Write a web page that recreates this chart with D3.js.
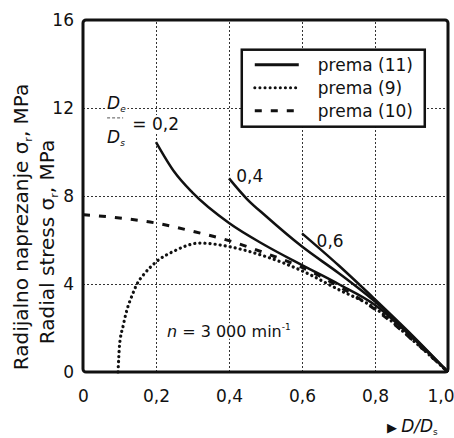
<!DOCTYPE html>
<html>
<head>
<meta charset="utf-8">
<script src="https://cdn.jsdelivr.net/npm/d3@7"></script>
<style>
  body { margin: 0; background: #fff; }
  svg { font-family: "DejaVu Sans", sans-serif; }
</style>
</head>
<body>
<svg width="454" height="438"></svg>
<script>
// D/Ds on x, radial stress (MPa) on y
const xTicks = [0, 0.2, 0.4, 0.6, 0.8, 1.0]
const xTickLabels = ["0", "0,2", "0,4", "0,6", "0,8", "1,0"]
const yTicks = [0, 4, 8, 12, 16]
const yTickLabels = ["0", "4", "8", "12", "16"]

// prema (11), one curve per De/Ds
const eq11_02 = [[0.2, 10.45], [0.25, 9.1], [0.3, 8.15], [0.4, 6.77], [0.5, 5.75],
  [0.6, 4.86], [0.7, 4.0], [0.8, 3.05], [0.9, 1.6], [1.0, 0]]
const eq11_04 = [[0.4, 8.8], [0.45, 7.85], [0.5, 7.1], [0.6, 5.7], [0.7, 4.5],
  [0.8, 3.2], [0.9, 1.65], [1.0, 0]]
const eq11_06 = [[0.6, 6.3], [0.7, 4.85], [0.8, 3.3], [0.9, 1.7], [1.0, 0]]
// prema (9)
const eq9 = [[0.096, 0], [0.1, 1.2], [0.11, 2.1], [0.12, 2.8], [0.135, 3.5], [0.148, 4.0],
  [0.17, 4.5], [0.2, 5.0], [0.25, 5.5], [0.32, 5.86], [0.4, 5.7], [0.5, 5.25],
  [0.6, 4.6], [0.7, 3.75], [0.8, 2.9], [0.9, 1.5], [1.0, 0]]
// prema (10)
const eq10 = [[0, 7.15], [0.1, 7.0], [0.2, 6.77], [0.3, 6.4], [0.4, 5.97], [0.5, 5.4],
  [0.6, 4.75], [0.7, 3.9], [0.8, 2.85], [0.9, 1.5], [1.0, 0]]

const legendLabels = ["prema (11)", "prema (9)", "prema (10)"]
const ratioLabels = ["0,4", "0,6"]

const margin = {top: 20, right: 6, bottom: 66, left: 83}
const W = 454, H = 438
const width = W - margin.left - margin.right
const height = H - margin.top - margin.bottom

const x = d3.scaleLinear().domain([0, 1]).range([0, width])
const y = d3.scaleLinear().domain([0, 16]).range([height, 0])

const svg = d3.select("svg")
const g = svg.append("g").attr("transform", `translate(${margin.left},${margin.top})`)

// grid
const xGrid = d3.axisBottom(x).tickValues(xTicks.slice(1, -1)).tickSize(-height).tickFormat("")
const yGrid = d3.axisLeft(y).tickValues(yTicks.slice(1, -1)).tickSize(-width).tickFormat("")
g.append("g").attr("transform", `translate(0,${height})`).call(xGrid)
g.append("g").call(yGrid)
g.selectAll(".domain").remove()
g.selectAll(".tick line")
  .attr("stroke", "#333").attr("stroke-width", 1).attr("stroke-dasharray", "2,2")

// tick labels
const xAxis = d3.axisBottom(x).tickValues(xTicks).tickSize(0).tickPadding(18)
  .tickFormat((d, i) => xTickLabels[i])
const xa = g.append("g").attr("transform", `translate(0,${height})`).call(xAxis)
const yAxis = d3.axisLeft(y).tickValues(yTicks).tickSize(0).tickPadding(9)
  .tickFormat((d, i) => yTickLabels[i])
const ya = g.append("g").call(yAxis)
xa.select(".domain").remove()
ya.select(".domain").remove()
svg.selectAll(".tick text").attr("font-family", "DejaVu Sans").attr("font-size", 17).attr("fill", "#111")
xa.selectAll(".tick text").filter((d, i) => i === xTicks.length - 1)
  .attr("text-anchor", "end").attr("dx", 6)

// annotations (white halo hides the grid behind them)
function label(sel) {
  return sel.attr("fill", "#111").attr("stroke", "#fff").attr("stroke-width", 4)
    .attr("paint-order", "stroke").attr("stroke-linejoin", "round")
}

const De = label(g.append("text").attr("x", x(0.066)).attr("y", y(11.95))
  .attr("font-size", 17).attr("font-style", "italic"))
De.append("tspan").text("D")
De.append("tspan").attr("font-size", 9).attr("dy", 3).text("e")
g.append("line").attr("x1", x(0.066)).attr("x2", x(0.11)).attr("y1", y(11.55)).attr("y2", y(11.55))
  .attr("stroke", "#555").attr("stroke-width", 1).attr("stroke-dasharray", "3,2")
const Ds = label(g.append("text").attr("x", x(0.066)).attr("y", y(10.4))
  .attr("font-size", 17).attr("font-style", "italic"))
Ds.append("tspan").text("D")
Ds.append("tspan").attr("font-size", 9).attr("dy", 3).text("s")
label(g.append("text").attr("x", x(0.135)).attr("y", y(11.0)).attr("font-size", 17).text("= 0,2"))

label(g.append("text").attr("x", x(0.42)).attr("y", y(8.65)).attr("font-size", 17).text(ratioLabels[0]))
label(g.append("text").attr("x", x(0.64)).attr("y", y(5.7)).attr("font-size", 17).text(ratioLabels[1]))

const nText = label(g.append("text").attr("x", x(0.23)).attr("y", y(1.6)).attr("font-size", 16))
nText.append("tspan").attr("font-style", "italic").text("n")
nText.append("tspan").text(" = 3 000 min")
nText.append("tspan").attr("font-size", 9).attr("dy", -7).text("-1")

// curves
const line = d3.line().x(d => x(d[0])).y(d => y(d[1])).curve(d3.curveMonotoneX)

;[eq11_02, eq11_04, eq11_06].forEach(s => {
  g.append("path").datum(s).attr("d", line)
    .attr("fill", "none").attr("stroke", "#111").attr("stroke-width", 2.5)
})
g.append("path").datum(eq10).attr("d", line)
  .attr("fill", "none").attr("stroke", "#111").attr("stroke-width", 3).attr("stroke-dasharray", "7,9")
g.append("path").datum(eq9).attr("d", line)
  .attr("fill", "none").attr("stroke", "#111").attr("stroke-width", 3.2)
  .attr("stroke-linecap", "round").attr("stroke-dasharray", "0.1,5")

// frame
g.append("rect").attr("x", 0).attr("y", 0).attr("width", width).attr("height", height)
  .attr("rx", 3).attr("fill", "none").attr("stroke", "#111").attr("stroke-width", 3)

// legend
const lg = g.append("g").attr("transform", `translate(${x(0.435)},${y(14.65)})`)
lg.append("rect").attr("width", 183).attr("height", 77)
  .attr("fill", "#fff").attr("stroke", "#111").attr("stroke-width", 2.5)
const legendStyles = [
  {w: 3, dash: null, cap: "butt"},
  {w: 3, dash: "0.1,5", cap: "round"},
  {w: 3, dash: "7,9", cap: "butt"}
]
legendLabels.forEach((t, i) => {
  const cy = 15 + i * 23
  lg.append("line").attr("x1", 13).attr("x2", 57).attr("y1", cy).attr("y2", cy)
    .attr("stroke", "#111").attr("stroke-width", legendStyles[i].w)
    .attr("stroke-dasharray", legendStyles[i].dash).attr("stroke-linecap", legendStyles[i].cap)
  lg.append("text").attr("x", 76).attr("y", cy + 6).attr("font-size", 17).attr("fill", "#111").text(t)
})

// axis titles
const yt = svg.append("g").attr("font-size", 20).attr("fill", "#111")
const t1 = yt.append("text").attr("transform", "translate(28,227) rotate(-90)").attr("text-anchor", "middle")
t1.append("tspan").text("Radijalno naprezanje σ")
t1.append("tspan").attr("font-size", 11).attr("dy", 4).text("r")
t1.append("tspan").attr("dy", -4).text(", MPa")
const t2 = yt.append("text").attr("transform", "translate(54,242) rotate(-90)").attr("text-anchor", "middle")
t2.append("tspan").text("Radial stress σ")
t2.append("tspan").attr("font-size", 11).attr("dy", 4).text("r")
t2.append("tspan").attr("dy", -4).text(", MPa")

const xt = svg.append("text").attr("x", 387).attr("y", 432).attr("font-size", 17).attr("fill", "#111")
xt.append("tspan").attr("font-size", 13).text("▶ ")
xt.append("tspan").attr("font-style", "italic").text("D/D")
xt.append("tspan").attr("font-size", 9).attr("dy", 3).text("s")
</script>
</body>
</html>
